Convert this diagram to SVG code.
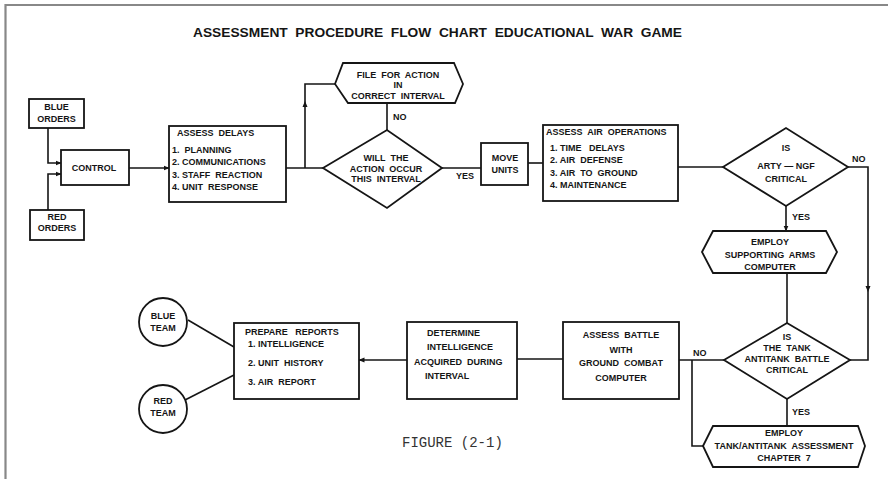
<svg xmlns="http://www.w3.org/2000/svg" width="888" height="479" viewBox="0 0 888 479">
<defs>
<style>
.n{fill:#fff;stroke:#151515;stroke-width:1.8}
.c{fill:none;stroke:#151515;stroke-width:1.6}
.t{font-family:"Liberation Sans",Arial,sans-serif;font-weight:bold;font-size:9px;fill:#151515;white-space:pre}
.m{text-anchor:middle}
.a{fill:#151515}
</style>
<marker id="arr" markerWidth="6" markerHeight="6" refX="5.5" refY="3" orient="auto" markerUnits="userSpaceOnUse">
<path d="M0,0.5 L6,3 L0,5.5 z" fill="#151515"/>
</marker>
</defs>
<rect width="888" height="479" fill="#fff"/>
<path d="M5.5,479 V5 H888" fill="none" stroke="#888" stroke-width="2.2"/>
<text x="193" y="37" font-family="Liberation Sans,Arial,sans-serif" font-weight="bold" font-size="13.5" fill="#151515" textLength="489" lengthAdjust="spacingAndGlyphs" style="white-space:pre">ASSESSMENT  PROCEDURE  FLOW  CHART  EDUCATIONAL  WAR  GAME</text>

<g id="connectors">
<path class="c" d="M48,128 V163 H61" marker-end="url(#arr)"/>
<path class="c" d="M48,210 V174 H61" marker-end="url(#arr)"/>
<path class="c" d="M129,168 H169" marker-end="url(#arr)"/>
<path class="c" d="M286,168 H323"/>
<path class="c" d="M305,168 V84 H335"/>
<path class="a" d="M305,101 L302.5,107 L307.5,107 z"/>
<path class="c" d="M387,130 V103"/>
<path class="c" d="M442,168 H481"/>
<path class="c" d="M528,163 H543"/>
<path class="c" d="M678,167 H723"/>
<path class="c" d="M848,167 H868 V360 H850"/>
<path class="a" d="M868,292 L865.5,286 L870.5,286 z"/>
<path class="c" d="M786,206 V231" marker-end="url(#arr)"/>
<path class="c" d="M787,273 V323"/>
<path class="c" d="M787,399 V426"/>
<path class="c" d="M724,360 H679"/>
<path class="c" d="M692,360 V446 H703"/>
<path class="c" d="M563,359 H517"/>
<path class="c" d="M407,360 H359" marker-end="url(#arr)"/>
<path class="c" d="M188,320 L234,347"/>
<path class="c" d="M185,400 L234,375"/>
<text class="t" x="393" y="120">NO</text>
<text class="t" x="456" y="179">YES</text>
<text class="t" x="852" y="162">NO</text>
<text class="t" x="792" y="220">YES</text>
<text class="t" x="792" y="415">YES</text>
<text class="t" x="693" y="356">NO</text>
</g>

<g id="blue-orders">
<rect class="n" x="29" y="99" width="55" height="29"/>
<text class="t m" x="56.5" y="110">BLUE</text>
<text class="t m" x="56.5" y="122">ORDERS</text>
</g>
<g id="control">
<rect class="n" x="61" y="150" width="68" height="35"/>
<text class="t m" x="94" y="171">CONTROL</text>
</g>
<g id="red-orders">
<rect class="n" x="30" y="210" width="54" height="30"/>
<text class="t m" x="57" y="220">RED</text>
<text class="t m" x="57" y="231">ORDERS</text>
</g>
<g id="assess-delays">
<rect class="n" x="169" y="126" width="117" height="76"/>
<text class="t" x="177" y="136">ASSESS  DELAYS</text>
<text class="t" x="172" y="153">1.  PLANNING</text>
<text class="t" x="172" y="165">2. COMMUNICATIONS</text>
<text class="t" x="172" y="178">3. STAFF  REACTION</text>
<text class="t" x="172" y="190">4. UNIT  RESPONSE</text>
</g>
<g id="will-action-occur">
<path class="n" d="M323,168 L387,130 L442,168 L387,208 z"/>
<text class="t m" x="386" y="161">WILL  THE</text>
<text class="t m" x="386" y="172">ACTION  OCCUR</text>
<text class="t m" x="386" y="182">THIS  INTERVAL</text>
</g>
<g id="file-for-action">
<path class="n" d="M335,84 L343,63 L454,63 L463,84 L455,103 L348,103 z"/>
<text class="t m" x="398" y="78">FILE  FOR  ACTION</text>
<text class="t m" x="398" y="88">IN</text>
<text class="t m" x="398" y="99">CORRECT  INTERVAL</text>
</g>
<g id="move-units">
<rect class="n" x="481" y="143" width="47" height="42"/>
<text class="t m" x="505" y="161">MOVE</text>
<text class="t m" x="505" y="173">UNITS</text>
</g>
<g id="assess-air">
<rect class="n" x="543" y="125" width="135" height="76"/>
<text class="t" x="546" y="135">ASSESS  AIR  OPERATIONS</text>
<text class="t" x="550" y="151">1. TIME   DELAYS</text>
<text class="t" x="550" y="163">2. AIR  DEFENSE</text>
<text class="t" x="550" y="176">3. AIR  TO  GROUND</text>
<text class="t" x="550" y="188">4. MAINTENANCE</text>
</g>
<g id="arty-ngf">
<path class="n" d="M723,167 L786,128 L848,167 L786,206 z"/>
<text class="t m" x="786" y="151">IS</text>
<text class="t m" x="786" y="169">ARTY — NGF</text>
<text class="t m" x="786" y="182">CRITICAL</text>
</g>
<g id="employ-supporting">
<path class="n" d="M702,252 L713,231 L826,231 L837,252 L826,273 L713,273 z"/>
<text class="t m" x="770" y="245">EMPLOY</text>
<text class="t m" x="770" y="258">SUPPORTING  ARMS</text>
<text class="t m" x="770" y="270">COMPUTER</text>
</g>
<g id="tank-antitank">
<path class="n" d="M724,360 L787,323 L850,360 L787,399 z"/>
<text class="t m" x="787" y="340">IS</text>
<text class="t m" x="787" y="351">THE  TANK</text>
<text class="t m" x="787" y="362">ANTITANK  BATTLE</text>
<text class="t m" x="787" y="373">CRITICAL</text>
</g>
<g id="employ-tank">
<path class="n" d="M703,446 L713,426 L858,426 L865,446 L858,467 L713,467 z"/>
<text class="t m" x="784" y="436">EMPLOY</text>
<text class="t m" x="784" y="449">TANK/ANTITANK  ASSESSMENT</text>
<text class="t m" x="784" y="461">CHAPTER  7</text>
</g>
<g id="assess-battle">
<rect class="n" x="563" y="322" width="116" height="77"/>
<text class="t m" x="621" y="338">ASSESS  BATTLE</text>
<text class="t m" x="621" y="353">WITH</text>
<text class="t m" x="621" y="366">GROUND  COMBAT</text>
<text class="t m" x="621" y="381">COMPUTER</text>
</g>
<g id="determine-intelligence">
<rect class="n" x="407" y="322" width="110" height="77"/>
<text class="t" x="427" y="336">DETERMINE</text>
<text class="t" x="427" y="350">INTELLIGENCE</text>
<text class="t" x="414" y="365">ACQUIRED  DURING</text>
<text class="t" x="425" y="379">INTERVAL</text>
</g>
<g id="prepare-reports">
<rect class="n" x="234" y="323" width="125" height="76"/>
<text class="t" x="245" y="335">PREPARE   REPORTS</text>
<text class="t" x="248" y="347">1. INTELLIGENCE</text>
<text class="t" x="248" y="366">2. UNIT  HISTORY</text>
<text class="t" x="248" y="385">3. AIR  REPORT</text>
</g>
<g id="blue-team">
<circle class="n" cx="163" cy="322" r="24"/>
<text class="t m" x="163" y="319">BLUE</text>
<text class="t m" x="163" y="331">TEAM</text>
</g>
<g id="red-team">
<circle class="n" cx="163" cy="409" r="24"/>
<text class="t m" x="163" y="404">RED</text>
<text class="t m" x="163" y="416">TEAM</text>
</g>
<text x="402" y="447" font-family="Liberation Mono,Courier New,monospace" font-size="14" fill="#333">FIGURE (2-1)</text>
</svg>
